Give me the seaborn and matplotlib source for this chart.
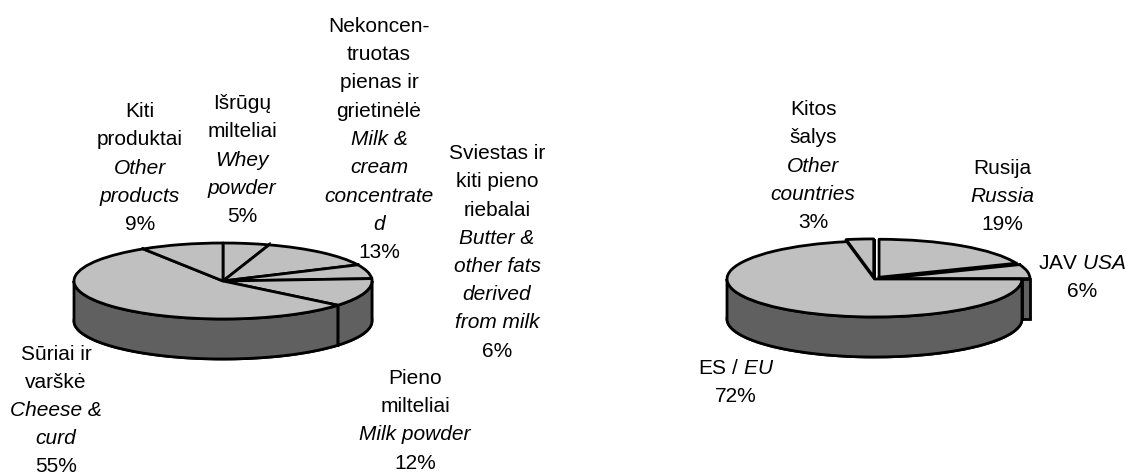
import numpy as np
import matplotlib
matplotlib.use('Agg')
import matplotlib.pyplot as plt
import seaborn as sns

# Data
products = ['Whey', 'Milk', 'Butter', 'Powder', 'Cheese', 'Other']
product_shares = [5, 13, 6, 12, 55, 9]
product_lt = [['Išrūgų', 'milteliai'],
              ['Nekoncen-', 'truotas', 'pienas ir', 'grietinėlė'],
              ['Sviestas ir', 'kiti pieno', 'riebalai'],
              ['Pieno', 'milteliai'],
              ['Sūriai ir', 'varškė'],
              ['Kiti', 'produktai']]
product_en = [['Whey', 'powder'],
              ['Milk &', 'cream', 'concentrate', 'd'],
              ['Butter &', 'other fats', 'derived', 'from milk'],
              ['Milk powder'],
              ['Cheese &', 'curd'],
              ['Other', 'products']]

countries = ['Russia', 'USA', 'EU', 'Other']
country_shares = [19, 6, 72, 3]
country_lt = [['Rusija'], [], [], ['Kitos', 'šalys']]
country_en = [['Russia'], [], [], ['Other', 'countries']]
country_inline = [None, r'JAV $\mathit{USA}$', r'ES / $\mathit{EU}$', None]
country_explode = [0.055, 0.055, 0, 0.055]

# Layout in pixels: label centre x and first line centre y
product_label_pos = [(242, 102), (379, 25), (497, 152), (415, 377), (56, 352.5), (140, 110)]
country_label_pos = [(1002, 167), (1082, 262), (736, 367), (813, 108)]

W, H = 1126, 475
LINE = 28.25
TOP = '#c0c0c0'
WALL = '#606060'
LW = 2.0

sns.set_theme(style='white')
plt.rcParams['font.family'] = ['Liberation Sans', 'DejaVu Sans']
plt.rcParams['mathtext.fontset'] = 'custom'
plt.rcParams['mathtext.rm'] = 'Liberation Sans'
plt.rcParams['mathtext.it'] = 'Liberation Sans:italic'

fig = plt.figure(figsize=(W / 100, H / 100), dpi=100)

# Text layer in pixel coordinates
txt = fig.add_axes([0, 0, 1, 1])
txt.set_xlim(0, W)
txt.set_ylim(H, 0)
txt.axis('off')


def pie3d(shares, explode, cx, cy, rx, ry, depth):
    d = depth / ry
    m = 0.2
    left = cx - rx * (1 + m)
    top = cy - ry * (1 + m)
    width = 2 * rx * (1 + m)
    height = ry * (2 + 2 * m + d)
    ax = fig.add_axes([left / W, 1 - (top + height) / H, width / W, height / H])

    style = dict(startangle=90, counterclock=False,
                 wedgeprops=dict(edgecolor='black', linewidth=LW, joinstyle='round'))
    base, _ = ax.pie(shares, explode=explode, center=(0, -d), colors=[WALL], **style)
    faces, _ = ax.pie(shares, explode=explode, colors=[TOP], **style)

    edges = np.cumsum([0] + list(shares)) / 100 * 2 * np.pi
    mids = (edges[:-1] + edges[1:]) / 2
    order = np.argsort(-np.cos(mids))  # back to front
    for z, i in enumerate(order):
        zorder = 2 + z
        base[i].set_zorder(zorder)
        ox = explode[i] * np.sin(mids[i])
        oy = explode[i] * np.cos(mids[i])
        # cut faces of the slice
        for a in edges[i:i + 2]:
            xs = ox + np.array([0, np.sin(a), np.sin(a), 0])
            ys = oy + np.array([0, np.cos(a), np.cos(a) - d, -d])
            ax.fill(xs, ys, facecolor=WALL, edgecolor='black', linewidth=LW, zorder=zorder)
        # outer wall, front half only
        a1 = max(edges[i], np.pi / 2)
        a2 = min(edges[i + 1], 3 * np.pi / 2)
        if a2 > a1:
            t = np.linspace(a1, a2, 120)
            xs = ox + np.sin(t)
            ys = oy + np.cos(t)
            ax.fill(np.r_[xs, xs[::-1]], np.r_[ys, ys[::-1] - d],
                    facecolor=WALL, edgecolor='black', linewidth=LW, zorder=zorder)
    for f in faces:
        f.set_zorder(100)

    ax.set_aspect('auto')
    ax.set_xlim(-1 - m, 1 + m)
    ax.set_ylim(-1 - m - d, 1 + m)
    ax.axis('off')


def put_label(x, y, lt, en, pct, inline=None):
    lines = [(s, 'normal') for s in lt] + [(s, 'italic') for s in en]
    if inline:
        lines.append((inline, 'normal'))
    lines.append((f'{pct}%', 'normal'))
    for k, (s, st) in enumerate(lines):
        txt.text(x, y + k * LINE + 7, s, ha='center', va='baseline',
                 fontsize=15, fontstyle=st, color='black')


pie3d(product_shares, [0] * len(product_shares), 223, 281, 149, 38, 40)
pie3d(country_shares, country_explode, 874.5, 279, 147.5, 38, 40)

for pos, lt, en, v in zip(product_label_pos, product_lt, product_en, product_shares):
    put_label(pos[0], pos[1], lt, en, v)
for pos, lt, en, v, inl in zip(country_label_pos, country_lt, country_en, country_shares, country_inline):
    put_label(pos[0], pos[1], lt, en, v, inl)

fig.savefig('out.png', dpi=100, facecolor='white')
